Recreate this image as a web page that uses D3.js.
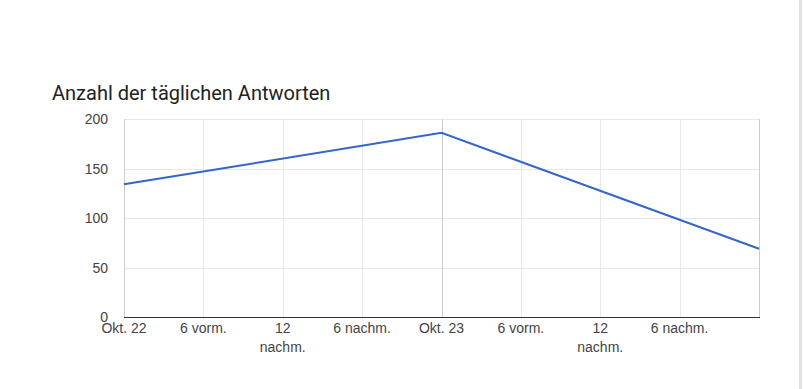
<!DOCTYPE html>
<html><head><meta charset="utf-8">
<script src="https://cdn.jsdelivr.net/npm/d3@7"></script>
<style>
html,body{margin:0;padding:0;background:#fff;}
svg{display:block;}
</style></head>
<body>
<svg id="c" width="803" height="389"></svg>
<script>
const title = "Anzahl der täglichen Antworten";
const dates = ["2023-10-22T00:00", "2023-10-23T00:00", "2023-10-24T00:00"];
const values = [134, 186, 69];
const yTicks = [0, 50, 100, 150, 200];
const xTickHours = [0, 6, 12, 18, 24, 30, 36, 42];
const xTickLabels = [["Okt. 22"], ["6 vorm."], ["12", "nachm."], ["6 nachm."], ["Okt. 23"], ["6 vorm."], ["12", "nachm."], ["6 nachm."]];

const parse = d3.timeParse("%Y-%m-%dT%H:%M");
const data = dates.map((d, i) => ({t: parse(d), v: values[i]}));
const t0 = data[0].t, t1 = data[data.length - 1].t;

const svg = d3.select("#c");
const L = 124, R = 759, T = 119, B = 317;
const x = d3.scaleTime().domain([t0, t1]).range([L, R]);
const y = d3.scaleLinear().domain([0, 200]).range([B, T]);

svg.append("rect").attr("x", 799).attr("y", 0).attr("width", 3).attr("height", 389).attr("fill", "#dfe1e5");

svg.append("text").attr("x", 52).attr("y", 100).attr("font-family", "Roboto, sans-serif")
  .attr("font-size", 20).attr("fill", "#222").text(title);

svg.append("g").selectAll("line").data(yTicks.filter(d => d > 0)).join("line")
  .attr("x1", L).attr("x2", R).attr("y1", d => Math.round(y(d)) + 0.5).attr("y2", d => Math.round(y(d)) + 0.5)
  .attr("stroke", "#e8e8e8").attr("stroke-width", 1);

const tickTimes = xTickHours.map(h => d3.timeHour.offset(t0, h));
svg.append("g").selectAll("line").data(tickTimes).join("line")
  .attr("x1", d => Math.round(x(d)) + 0.5).attr("x2", d => Math.round(x(d)) + 0.5)
  .attr("y1", T).attr("y2", B)
  .attr("stroke", (d, i) => (i === 4 ? "#cccccc" : "#e8e8e8")).attr("stroke-width", 1);

svg.append("line").attr("x1", L + 0.5).attr("x2", L + 0.5).attr("y1", T).attr("y2", B).attr("stroke", "#cccccc");
svg.append("line").attr("x1", R + 0.5).attr("x2", R + 0.5).attr("y1", T).attr("y2", B).attr("stroke", "#cccccc");

const line = d3.line().x(d => x(d.t)).y(d => y(d.v));
svg.append("path").datum(data).attr("d", line).attr("fill", "none")
  .attr("stroke", "#3366cc").attr("stroke-width", 2);

svg.append("line").attr("x1", L).attr("x2", R + 1).attr("y1", B + 0.5).attr("y2", B + 0.5).attr("stroke", "#333").attr("stroke-width", 1);

svg.append("g").selectAll("text").data(yTicks).join("text")
  .attr("x", 108).attr("y", d => y(d) + 5).attr("text-anchor", "end")
  .attr("font-family", "Arial, 'Liberation Sans', sans-serif").attr("font-size", 14).attr("fill", "#444")
  .text(d => d);

const xg = svg.append("g").selectAll("text").data(tickTimes).join("text")
  .attr("x", d => x(d)).attr("y", 333).attr("text-anchor", "middle")
  .attr("font-family", "Arial, 'Liberation Sans', sans-serif").attr("font-size", 14).attr("fill", "#444");
xg.each(function(d, i) {
  const el = d3.select(this);
  xTickLabels[i].forEach((s, j) => {
    el.append("tspan").attr("x", x(d)).attr("dy", j === 0 ? 0 : 19).text(s);
  });
});
</script>
</body></html>
